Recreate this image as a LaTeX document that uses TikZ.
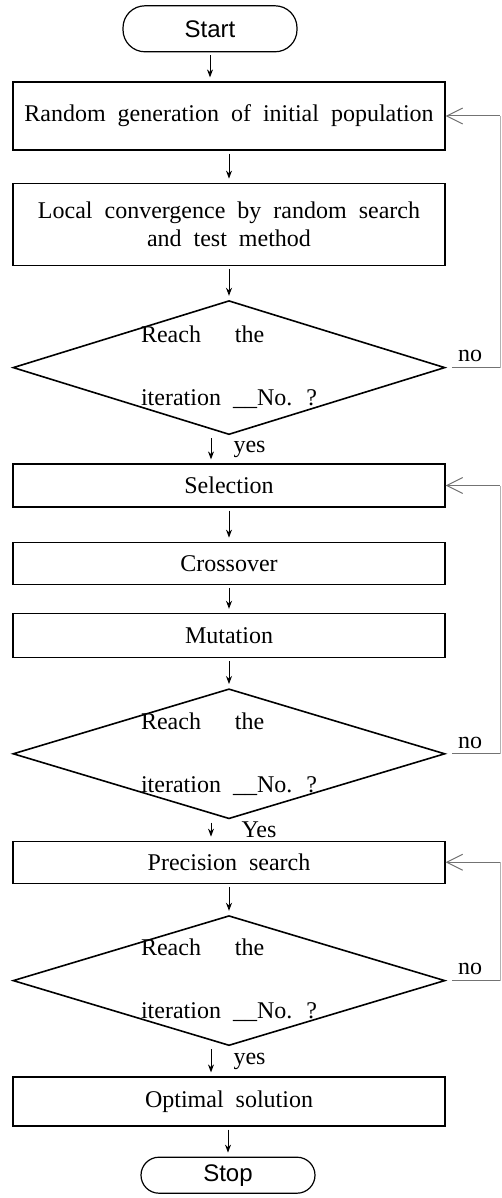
\documentclass[tikz,border=0pt]{standalone}
\usepackage{fontspec}
\setmainfont{Liberation Serif}
\setsansfont{Liberation Sans}
\usepackage{tikz}
\usetikzlibrary{calc}
\usetikzlibrary{arrows.meta,shapes.geometric}
\usetikzlibrary{positioning}
\newcommand{\wsp}{\spaceskip=6pt plus 1pt\relax}
\tikzset{
  txt/.style={font=\fontsize{12}{14}\selectfont},
  blk/.style={txt, draw, line width=0.6pt, minimum width=216pt, inner sep=0pt, align=center},
  term/.style={font=\sffamily\fontsize{12}{14}\selectfont, draw, line width=0.6pt, minimum width=87pt, inner sep=0pt},
  dia/.style={draw, diamond, line width=0.8pt, minimum width=216pt, inner sep=0pt},
  dn/.style={-{Stealth[length=4pt,width=3pt]}, line width=0.5pt, shorten <=1.5pt, shorten >=2pt},
  back/.style={-{Straight Barb[length=8pt,width=8pt]}, line width=0.5pt, draw=black!55},
  nol/.style={line width=0.5pt, draw=black!55},
  rl/.style={line width=0.5pt, draw=black!30},
  lbl/.style={txt, inner sep=1pt}
}
\begin{document}
\begin{tikzpicture}[x=0.5pt,y=-0.5pt]
\useasboundingbox (0,0) rectangle (502,1198);
\node[blk, minimum height=34pt] (R) at (229,116) {\wsp Random generation of initial population};
\node[term, minimum height=23pt, rounded corners=11pt, above=14.5pt of R, xshift=-9.5pt] (St) {Start};
\node[blk, minimum height=41pt, below=16pt of R] (L) {\wsp Local convergence by random search\\\wsp and test method};
\node[dia, minimum height=67pt, below=17pt of L] (D1) {};
\node[lbl, align=left] (T1) at (D1) {Reach\hspace{17pt}the\\[17.5pt]\wsp iteration \_\_No. ?};
\node[blk, minimum height=21.5pt, below=14pt of D1] (Se) {Selection};
\node[blk, minimum height=21pt, below=17pt of Se] (C) {Crossover};
\node[blk, minimum height=22pt, below=14pt of C] (Mu) {Mutation};
\node[dia, minimum height=65pt, below=15pt of Mu] (D2) {};
\node[lbl, align=left] (T2) at (D2) {Reach\hspace{17pt}the\\[17.5pt]\wsp iteration \_\_No. ?};
\node[blk, minimum height=21pt, below=10.5pt of D2] (P) {\wsp Precision search};
\node[dia, minimum height=65pt, below=15.5pt of P] (D3) {};
\node[lbl, align=left] (T3) at (D3) {Reach\hspace{17pt}the\\[17.5pt]\wsp iteration \_\_No. ?};
\node[blk, minimum height=24.5pt, below=15pt of D3] (O) {\wsp Optimal solution};
\node[term, minimum height=18pt, rounded corners=9pt, below=15pt of O, xshift=-0.5pt] (Sp) {Stop};
\coordinate (rail) at (500,0);

\draw[dn] (St.south) -- (St.south |- R.north);
\draw[dn] (R.south) -- (L.north);
\draw[dn] (L.south) -- (D1.north);
\draw[dn] ([xshift=-9pt]D1.south) -- ([xshift=-9pt]Se.north) node[lbl, midway, right=10pt] (y1) {yes};
\draw[dn] (Se.south) -- (C.north);
\draw[dn] (C.south) -- (Mu.north);
\draw[dn] (Mu.south) -- (D2.north);
\draw[dn] ([xshift=-9pt]D2.south) -- ([xshift=-9pt]P.north) node[lbl, midway, right=14pt] (y2) {Yes};
\draw[dn] (P.south) -- (D3.north);
\draw[dn] ([xshift=-9pt]D3.south) -- ([xshift=-9pt]O.north) node[lbl, midway, right=10pt] (y3) {yes};
\draw[dn] (O.south -| Sp.north) -- (Sp.north);

\draw[nol] ([xshift=3pt]D1.east) -- (D1.east -| rail);
\draw[rl] (D1.east -| rail) -- (R.east -| rail);
\draw[back] (R.east -| rail) -- (R.east);
\node[lbl, above right=1.5pt and 5pt of D1.east] (n1) {no};

\draw[nol] ([xshift=3pt]D2.east) -- (D2.east -| rail);
\draw[rl] (D2.east -| rail) -- (Se.east -| rail);
\draw[back] (Se.east -| rail) -- (Se.east);
\node[lbl, above right=1.5pt and 5pt of D2.east] (n2) {no};

\draw[nol] ([xshift=3pt]D3.east) -- (D3.east -| rail);
\draw[rl] (D3.east -| rail) -- (P.east -| rail);
\draw[back] (P.east -| rail) -- (P.east);
\node[lbl, above right=1.5pt and 5pt of D3.east] (n3) {no};
\end{tikzpicture}
\end{document}
